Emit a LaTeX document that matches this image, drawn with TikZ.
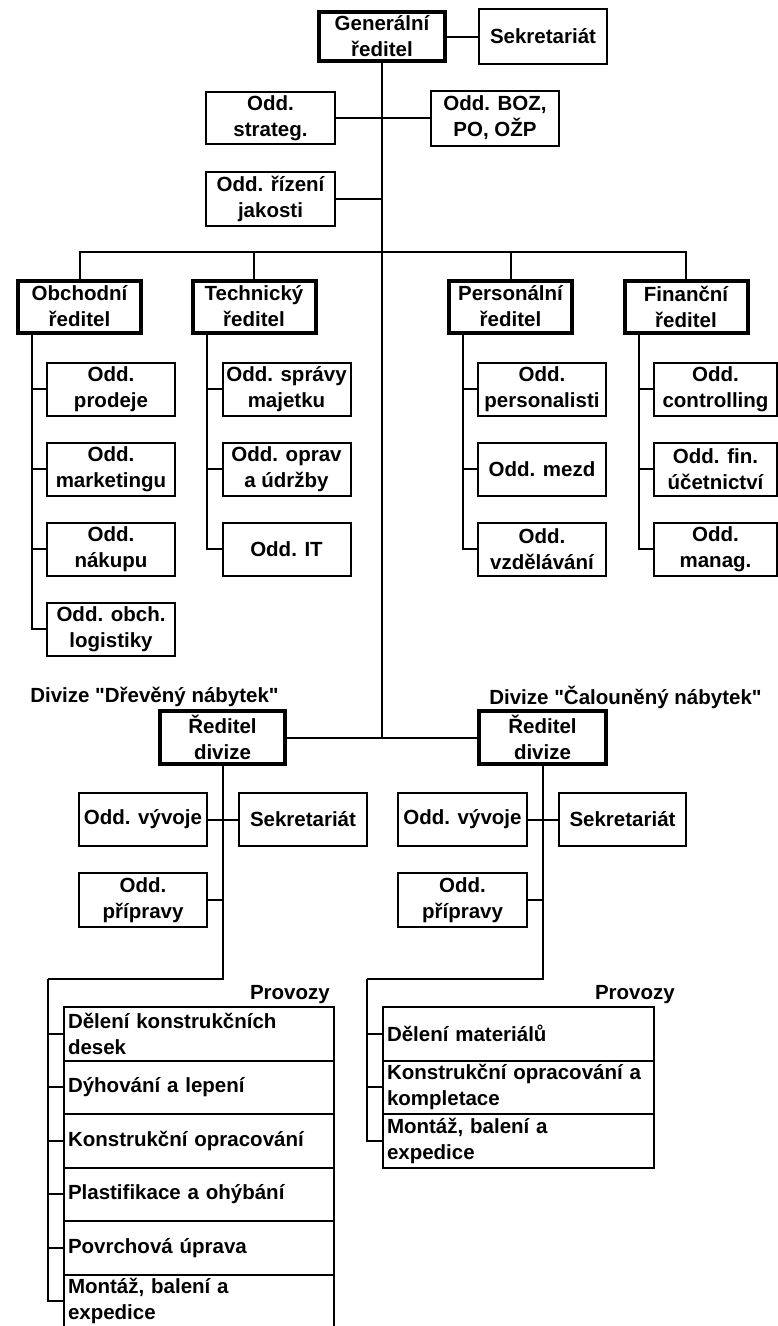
\documentclass[tikz,border=0pt]{standalone}
\usepackage{fontspec}
\setmainfont{Liberation Sans}[Ligatures=TeXOff]
\begin{document}
\begin{tikzpicture}[x=1pt,y=-1pt,
  every node/.style={font=\fontsize{20.5}{26}\selectfont\bfseries, inner sep=0pt},
  box/.style={draw, line width=2pt, fill=white, align=center, minimum width=128pt, minimum height=53pt},
  head/.style={box, line width=4pt, minimum width=123pt, minimum height=52pt},
  rowbox/.style={draw, line width=2pt, outer sep=0pt, minimum height=53.5pt, text width=262pt, align=left, inner xsep=4pt, anchor=north west},
  conn/.style={line width=2pt}]
\useasboundingbox (0,0) rectangle (778,1326);
% top
\node[head, minimum width=126pt, minimum height=49pt] (gr) at (382,36.5) {Generální\\ředitel};
\node[box, minimum height=55pt] (sek) at (543,36.5) {Sekretariát};
\node[box, minimum width=129pt, minimum height=52pt] (strat) at (270.5,118) {Odd.\\strateg.};
\node[box, minimum height=55pt] (boz) at (495,118) {Odd. BOZ,\\PO, OŽP};
\node[box, minimum width=129pt, minimum height=54pt] (jak) at (270.5,199) {Odd. řízení\\jakosti};
% directors
\node[head] (obch) at (79.5,306.5) {Obchodní\\ředitel};
\node[head] (tech) at (254,306.5) {Technický\\ředitel};
\node[head] (pers) at (510.5,306.5) {Personální\\ředitel};
\node[head] (fin) at (686,306.5) {Finanční\\ředitel};
% departments
\node[box] (a1) at (111,389) {Odd.\\prodeje};
\node[box] (a2) at (111,469) {Odd.\\marketingu};
\node[box] (a3) at (111,549) {Odd.\\nákupu};
\node[box] (a4) at (111,629) {Odd. obch.\\logistiky};
\node[box] (b1) at (286.5,389) {Odd. správy\\majetku};
\node[box] (b2) at (286.5,469) {Odd. oprav\\a údržby};
\node[box] (b3) at (286.5,549) {Odd. IT};
\node[box] (c1) at (542,389) {Odd.\\personalisti};
\node[box] (c2) at (542,469) {Odd. mezd};
\node[box] (c3) at (542,549) {Odd.\\vzdělávání};
\node[box, minimum width=123pt] (d1) at (715.5,389) {Odd.\\controlling};
\node[box, minimum width=123pt] (d2) at (715.5,469) {Odd. fin.\\účetnictví};
\node[box, minimum width=123pt] (d3) at (715.5,549) {Odd.\\manag.};
% divisions
\node (lab1) at (154.5,697) {Divize "Dřevěný nábytek"};
\node (lab2) at (625.5,697) {Divize "Čalouněný nábytek"};
\node[head, minimum width=125pt, minimum height=53pt] (rd1) at (222.5,737.5) {Ředitel\\divize};
\node[head, minimum width=127pt, minimum height=53pt] (rd2) at (542.5,737.5) {Ředitel\\divize};
\node[box] (vyv1) at (143,819.5) {Odd. vývoje};
\node[box] (sek1) at (303,819.5) {Sekretariát};
\node[box, minimum height=54pt] (prip1) at (143,900) {Odd.\\přípravy};
\node[box, minimum width=129pt] (vyv2) at (462.5,819.5) {Odd. vývoje};
\node[box, minimum width=127pt] (sek2) at (622.5,819.5) {Sekretariát};
\node[box, minimum width=129pt, minimum height=54pt] (prip2) at (462.5,900) {Odd.\\přípravy};
% provozy
\node[anchor=east] (prov1) at (330,995) {Provozy};
\node[anchor=east] (prov2) at (675,995) {Provozy};
\node[rowbox] (p1) at (64,1007) {Dělení konstrukčních\\desek};
\node[rowbox] (p2) at (p1.south west) {Dýhování a lepení};
\node[rowbox] (p3) at (p2.south west) {Konstrukční opracování};
\node[rowbox] (p4) at (p3.south west) {Plastifikace a ohýbání};
\node[rowbox] (p5) at (p4.south west) {Povrchová úprava};
\node[rowbox] (p6) at (p5.south west) {Montáž, balení a\\expedice};
\node[rowbox, text width=263pt] (q1) at (383,1007) {Dělení materiálů};
\node[rowbox, text width=263pt] (q2) at (q1.south west) {Konstrukční opracování a\\kompletace};
\node[rowbox, text width=263pt] (q3) at (q2.south west) {Montáž, balení a\\expedice};
% connectors
\coordinate (busy) at (0,252);
\coordinate (l1) at (48,979);
\coordinate (l2) at (367,979);
\draw[conn] (gr.east) -- (sek.west);
\draw[conn] (gr.south) -- (gr.south |- rd1.east);
\draw[conn] (strat.east) -- (boz.west);
\draw[conn] (jak.east) -- (jak.east -| gr.south);
\draw[conn] (obch.north) |- (fin.north |- busy) -- (fin.north);
\draw[conn] (tech.north) -- (tech.north |- busy);
\draw[conn] (pers.north) -- (pers.north |- busy);
\foreach \d/\s in {obch/a1,obch/a2,obch/a3,obch/a4,tech/b1,tech/b2,tech/b3,pers/c1,pers/c2,pers/c3,fin/d1,fin/d2,fin/d3}
  \draw[conn] ([xshift=16pt]\d.south west) |- (\s.west);
\draw[conn] (rd1.east) -- (rd2.west);
\draw[conn] (vyv1.east) -- (sek1.west);
\draw[conn] (prip1.east) -- (prip1.east -| rd1.south);
\draw[conn] (vyv2.east) -- (sek2.west);
\draw[conn] (prip2.east) -- (prip2.east -| rd2.south);
\draw[conn] (rd1.south) |- (l1);
\draw[conn] (rd2.south) |- (l2);
\foreach \r in {p1,p2,p3,p4,p5,p6}
  \draw[conn] (l1) |- (\r.west);
\foreach \r in {q1,q2,q3}
  \draw[conn] (l2) |- (\r.west);
\end{tikzpicture}
\end{document}
